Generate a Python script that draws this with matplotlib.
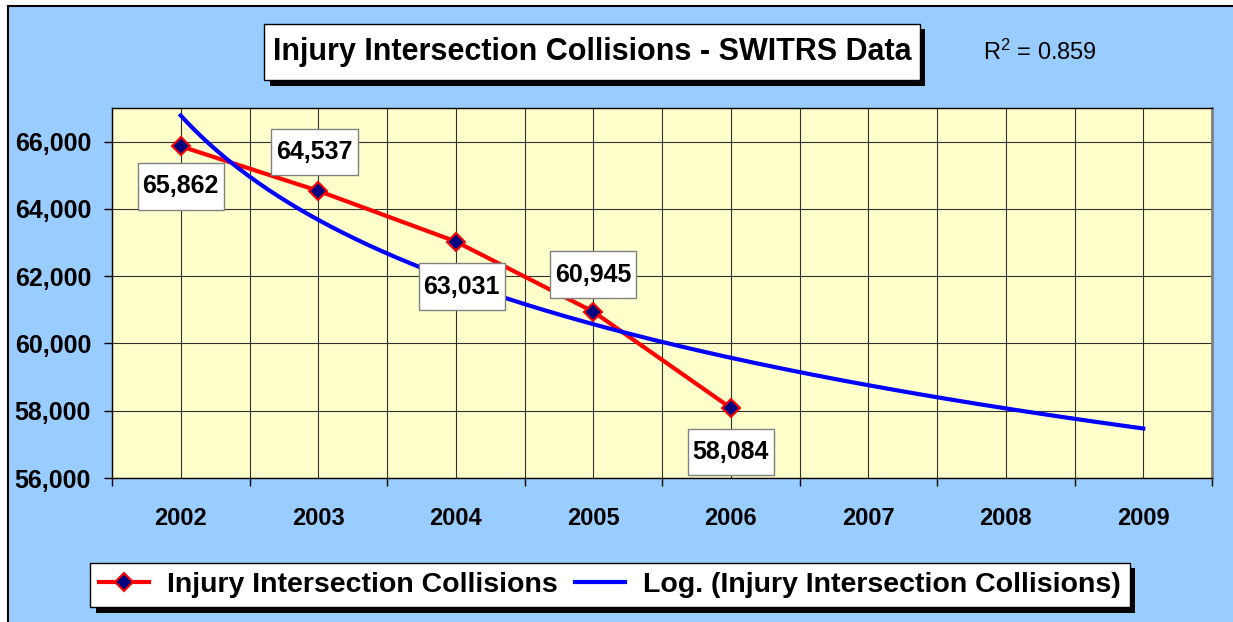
import numpy as np
import matplotlib
matplotlib.use('Agg')
import matplotlib.pyplot as plt
import matplotlib.patheffects as pe
from matplotlib.patches import Rectangle
from matplotlib.path import Path
from matplotlib.ticker import FuncFormatter

# SWITRS injury intersection collisions per year
years = ['2002', '2003', '2004', '2005', '2006', '2007', '2008', '2009']
collisions = [65862, 64537, 63031, 60945, 58084]
series_name = 'Injury Intersection Collisions'
title = 'Injury Intersection Collisions - SWITRS Data'

plt.rcParams['font.family'] = 'Liberation Sans'
plt.rcParams['font.weight'] = 'bold'

# logarithmic trendline y = a*ln(x) + b, extended over all years
x = np.arange(1, len(collisions) + 1)
y = np.array(collisions, dtype=float)
a, b = np.polyfit(np.log(x), y, 1)
fit = a * np.log(x) + b
r2 = 1 - np.sum((y - fit) ** 2) / np.sum((y - y.mean()) ** 2)
xt = np.linspace(1, len(years), 400)
trend = a * np.log(xt) + b


def rect_box(padx, pady):
    # square box with separate horizontal / vertical padding (in fontsize units)
    def box(x0, y0, width, height, mutation_size):
        px, py = padx * mutation_size, pady * mutation_size
        x1, y1 = x0 + width + px, y0 + height + py
        x0, y0 = x0 - px, y0 - py
        return Path([(x0, y0), (x1, y0), (x1, y1), (x0, y1), (x0, y0)], closed=True)
    return box


W, H = 1233, 622
fig = plt.figure(figsize=(W / 100, H / 100), dpi=100)
fig.patch.set_facecolor('white')

# chart area with its border
fig.add_artist(Rectangle((8 / W, -0.1), 1.2, 1.1 - 6 / H, transform=fig.transFigure,
                         facecolor='#99CCFF', edgecolor='black', lw=1.5, zorder=-10))

ax = fig.add_axes([112 / W, 1 - 478 / H, 1100 / W, 370 / H])
ax.set_facecolor('#FFFFCC')

ax.plot(x, collisions, color='red', lw=3, marker='D', ms=9.5, mfc='#000080',
        mec='red', mew=1.5, label=series_name, zorder=3)
ax.plot(xt, trend, color='blue', lw=3, label='Log. (' + series_name + ')', zorder=4)

# value labels
label_offsets = [(0, -40), (-4, 39), (6, -45), (0, 37), (0, -44)]
for xi, v, (dx, dy) in zip(x, collisions, label_offsets):
    ax.annotate(f'{v:,}', (xi, v), xytext=(dx, dy), textcoords='offset pixels',
                ha='center', va='center', fontsize=18, zorder=6,
                bbox=dict(boxstyle=rect_box(0.2, 0.45), fc='white', ec='#808080', lw=1))

ax.set_xlim(0.5, len(years) + 0.5)
ax.set_xticks(np.arange(0.5, len(years) + 1, 1))
ax.set_xticklabels([])
ax.set_xticks(np.arange(1, len(years) + 1), labels=years, minor=True)
ax.tick_params(axis='x', which='major', direction='out', length=6, width=1)
ax.tick_params(axis='x', which='minor', length=0, pad=21, labelsize=17)

ax.set_ylim(56000, 67000)
ax.set_yticks(range(56000, 67000, 2000))
ax.yaxis.set_major_formatter(FuncFormatter(lambda v, p: f'{v:,.0f}'))
ax.tick_params(axis='y', direction='out', length=6, width=1, pad=9, labelsize=18)

ax.grid(True, which='both', axis='x', color='#303030', lw=0.8)
ax.grid(True, which='major', axis='y', color='#303030', lw=0.8)
ax.set_axisbelow(True)
for side in ['left', 'bottom', 'top']:
    ax.spines[side].set_color('black')
    ax.spines[side].set_linewidth(1)
ax.spines['right'].set_color('#808080')
ax.spines['right'].set_linewidth(2)

shadow = [pe.SimplePatchShadow(offset=(4, -4), shadow_rgbFace='black', alpha=1), pe.Normal()]

t = fig.text(592 / W, 1 - 52 / H, title, ha='center', va='center', fontsize=22,
             bbox=dict(boxstyle=rect_box(0.28, 0.43), fc='white', ec='black', lw=1))
t.get_bbox_patch().set_path_effects(shadow)

fig.text(983 / W, 1 - 52 / H, f'$\\mathregular{{R^2}}$ = {r2:.3f}', ha='left', va='center',
         fontsize=17, fontweight='normal')

handles, labels = ax.get_legend_handles_labels()
leg = fig.legend(handles, labels, loc='center', bbox_to_anchor=(610 / W, 1 - 585 / H),
                 ncol=2, fontsize=20.5, frameon=True, fancybox=False, edgecolor='black',
                 framealpha=1, handlelength=1.75, handletextpad=0.63, columnspacing=0.6,
                 borderpad=0.32, borderaxespad=0, numpoints=1)
leg.get_frame().set_linewidth(1)
leg.get_frame().set_path_effects(shadow)

fig.savefig('out.png', dpi=100, facecolor=fig.get_facecolor())
